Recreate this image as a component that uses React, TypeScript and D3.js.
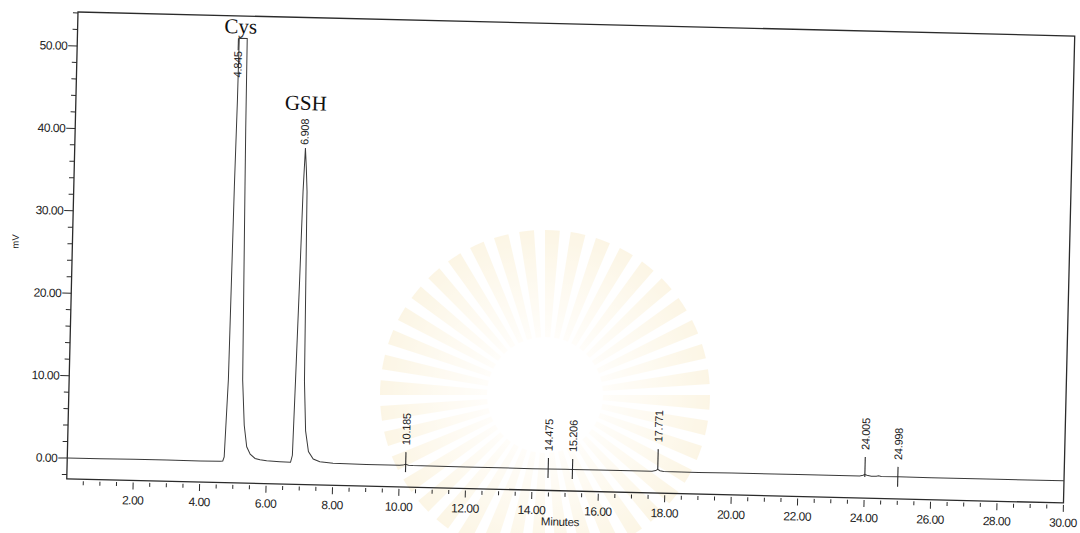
import React from 'react';
import * as d3 from 'd3';

// Chromatogram trace (minutes, mV)
const traceTime = [0, 1, 2, 3, 4, 4.6, 4.68, 4.72, 4.79, 4.83, 4.86, 4.87, 5.11, 5.13, 5.15, 5.22, 5.3, 5.39, 5.5, 5.65, 5.8, 6.0, 6.4, 6.72, 6.77, 6.81, 6.86, 6.9, 6.94, 6.98, 7.02, 7.08, 7.15, 7.25, 7.4, 7.6, 8, 9, 10, 10.1, 10.185, 10.27, 10.4, 12, 14, 14.475, 15, 15.206, 16, 17.6, 17.71, 17.771, 17.84, 17.95, 19, 20, 22, 23.85, 23.95, 24.005, 24.07, 24.2, 24.35, 24.42, 24.5, 25, 26, 28, 30];
const traceMV = [0, 0.02, 0.04, 0.05, 0.05, 0.06, 0.1, 0.6, 10, 33.4, 44, 51.4, 51.4, 40.5, 33.4, 10, 4.5, 1.9, 1, 0.5, 0.35, 0.25, 0.18, 0.15, 1, 10, 22, 33, 38.3, 36, 33, 10, 4, 1.5, 0.6, 0.3, 0.15, 0.1, 0.1, 0.13, 0.25, 0.13, 0.1, 0.08, 0.08, 0.08, 0.1, 0.1, 0.1, 0.12, 0.2, 0.35, 0.2, 0.12, 0.1, 0.12, 0.15, 0.15, 0.25, 0.35, 0.25, 0.15, 0.17, 0.22, 0.15, 0.15, 0.15, 0.15, 0.15];

// Peak labels (retention time) and the mV level of their marks
const peakRT = [4.845, 6.908, 10.185, 14.475, 15.206, 17.771, 24.005, 24.998];
const peakLabel = ['4.845', '6.908', '10.185', '14.475', '15.206', '17.771', '24.005', '24.998'];
const peakMarkMV = [51.4, 38.3, 0.5, 0.2, 0.15, 1.6, 1.25, 0.15];

// Compound annotations
const compoundName = ['Cys', 'GSH'];
const compoundRT = [4.91, 6.92];
const compoundMV = [52.0, 42.9];

// Axes
const xDomain = [0, 30];
const yDomain = [-2.52, 54.12];
const xMajorTicks = [2, 4, 6, 8, 10, 12, 14, 16, 18, 20, 22, 24, 26, 28, 30];
const yMajorTicks = [0, 10, 20, 30, 40, 50];

const W = 1080;
const H = 533;
const FX = 78;
const FY = 12;
const FW = 997;
const FH = 467;
const ANGLE = 1.38;

const labelFont = "'Liberation Sans', Arial, sans-serif";
const ink = '#2b2b2b';

export default function App() {
  const x = d3.scaleLinear().domain(xDomain).range([0, FW]);
  const y = d3.scaleLinear().domain(yDomain).range([FH, 0]);

  const line = d3
    .line<number>()
    .x((_, i) => x(traceTime[i]))
    .y((d) => y(d));

  const xMinor = d3.range(0.5, 30.01, 0.5).filter((v) => Math.abs(v / 2 - Math.round(v / 2)) > 1e-6);
  const yMinor = d3.range(-2, 54.01, 2).filter((v) => Math.abs(v / 10 - Math.round(v / 10)) > 1e-6);

  // faint watermark sunburst
  const rays = d3.range(0, 40);
  const arc = d3.arc<number>()
    .innerRadius(58)
    .outerRadius(165)
    .startAngle((i) => (i * 2 * Math.PI) / 40)
    .endAngle((i) => (i * 2 * Math.PI) / 40 + 0.09);

  return (
    <div style={{ position: 'fixed', left: 0, top: 0, width: W, height: H, background: '#fff' }}>
      <svg width={W} height={H} viewBox={`0 0 ${W} ${H}`} style={{ display: 'block' }}>
        <defs>
          <radialGradient id="wm" gradientUnits="userSpaceOnUse" cx={0} cy={0} r={165}>
            <stop offset="0.35" stopColor="#fffaf0" />
            <stop offset="0.7" stopColor="#fbefcf" />
            <stop offset="1" stopColor="#f6e3b0" />
          </radialGradient>
        </defs>
        <rect x={0} y={0} width={W} height={H} fill="#fff" />
        <g transform="translate(545,395)" opacity={0.32}>
          {rays.map((i) => (
            <path key={i} d={arc(i) || ''} fill="url(#wm)" />
          ))}
        </g>
        <g transform={`translate(${FX},${FY}) rotate(${ANGLE})`}>
          {/* frame */}
          <rect x={0} y={0} width={FW} height={FH} fill="none" stroke={ink} strokeWidth={1.3} />

          {/* y axis ticks */}
          {yMinor.map((v) => (
            <line key={'ym' + v} x1={-5} x2={0} y1={y(v)} y2={y(v)} stroke={ink} strokeWidth={1} />
          ))}
          {yMajorTicks.map((v) => (
            <g key={'yM' + v}>
              <line x1={-9} x2={0} y1={y(v)} y2={y(v)} stroke={ink} strokeWidth={1} />
              <text
                x={-10}
                y={y(v)}
                dy="0.35em"
                textAnchor="end"
                fontFamily={labelFont}
                fontSize={12}
                letterSpacing={-0.5}
                fill="#222"
              >
                {v.toFixed(2)}
              </text>
            </g>
          ))}
          <text
            transform={`translate(-57,231) rotate(-90)`}
            textAnchor="middle"
            dy="0.35em"
            fontFamily={labelFont}
            fontSize={9.5}
            fill="#222"
          >
            mV
          </text>

          {/* x axis ticks */}
          {xMinor.map((v) => (
            <line key={'xm' + v} x1={x(v)} x2={x(v)} y1={FH + 2} y2={FH + 6} stroke={ink} strokeWidth={1} />
          ))}
          {xMajorTicks.map((v) => (
            <g key={'xM' + v}>
              <line x1={x(v)} x2={x(v)} y1={FH + 2} y2={FH + 9} stroke={ink} strokeWidth={1} />
              <text
                x={x(v)}
                y={FH + 24}
                textAnchor="middle"
                fontFamily={labelFont}
                fontSize={12}
                letterSpacing={-0.5}
                fill="#222"
              >
                {v.toFixed(2)}
              </text>
            </g>
          ))}
          <text
            x={x(14.87)}
            y={FH + 35}
            textAnchor="middle"
            fontFamily={labelFont}
            fontSize={11.5}
            letterSpacing={-0.3}
            fill="#222"
          >
            Minutes
          </text>

          {/* trace */}
          <path d={line(traceMV) || ''} fill="none" stroke="#3a3a3a" strokeWidth={1} />

          {/* peak marks and labels */}
          {peakRT.map((rt, i) => {
            const px = x(rt);
            const py = y(peakMarkMV[i]);
            if (peakMarkMV[i] >= 50) {
              return (
                <g key={'pk' + i}>
                  <line x1={px} x2={px} y1={py} y2={py + 12} stroke={ink} strokeWidth={1} />
                  <text
                    transform={`translate(${px},${py + 13}) rotate(-90)`}
                    textAnchor="end"
                    dy="0.35em"
                    fontFamily={labelFont}
                    fontSize={11}
                    letterSpacing={-0.3}
                    fill="#222"
                  >
                    {peakLabel[i]}
                  </text>
                </g>
              );
            }
            if (peakMarkMV[i] >= 5) {
              return (
                <text
                  key={'pk' + i}
                  transform={`translate(${px},${py - 3}) rotate(-90)`}
                  textAnchor="start"
                  dy="0.35em"
                  fontFamily={labelFont}
                  fontSize={11}
                  letterSpacing={-0.3}
                  fill="#222"
                >
                  {peakLabel[i]}
                </text>
              );
            }
            return (
              <g key={'pk' + i}>
                <line x1={px} x2={px} y1={py - 10} y2={py + 10} stroke={ink} strokeWidth={1.1} />
                <text
                  transform={`translate(${px},${py - 17}) rotate(-90)`}
                  textAnchor="start"
                  dy="0.35em"
                  fontFamily={labelFont}
                  fontSize={11}
                  letterSpacing={-0.3}
                  fill="#222"
                >
                  {peakLabel[i]}
                </text>
              </g>
            );
          })}

          {/* compound names */}
          {compoundName.map((n, i) => (
            <text
              key={n}
              x={x(compoundRT[i])}
              y={y(compoundMV[i])}
              textAnchor="middle"
              fontFamily="'Liberation Serif', 'Times New Roman', serif"
              fontSize={21}
              fill="#111"
            >
              {n}
            </text>
          ))}
        </g>
      </svg>
    </div>
  );
}
